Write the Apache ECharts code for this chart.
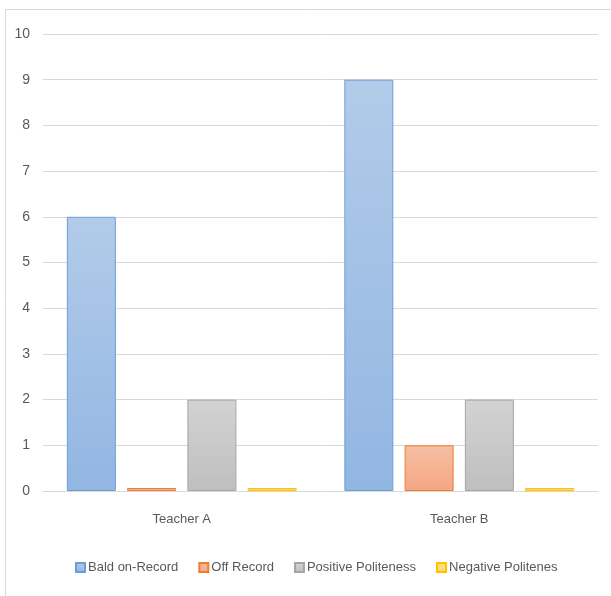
<!DOCTYPE html>
<html><head><meta charset="utf-8">
<script src="https://cdn.jsdelivr.net/npm/echarts@6/dist/echarts.min.js"></script>
<style>html,body{margin:0;padding:0;background:#fff}#c{width:611px;height:596px}</style>
</head><body><div id="c"></div>
<script>
var categories = ['Teacher A', 'Teacher B'];
var seriesNames = ['Bald on-Record', 'Off Record', 'Positive Politeness', 'Negative Politenes'];
var baldOnRecord = [6, 9];
var offRecord = [0, 1];
var positivePoliteness = [2, 2];
var negativePoliteness = [0, 0];
var yTicks = [0, 1, 2, 3, 4, 5, 6, 7, 8, 9, 10];

var values = [baldOnRecord, offRecord, positivePoliteness, negativePoliteness];
var fills = [['#b2cbe9', '#92b6e2'], ['#f6bea4', '#f4a783'], ['#d3d3d3', '#bfbfbf'], ['#ffe494', '#ffd66a']];
var borders = ['#6a9fd8', '#ed7d31', '#a5a5a5', '#ffc000'];
var font = 'Liberation Sans';

var chart = echarts.init(document.getElementById('c'));
chart.setOption({
  animation: false,
  graphic: [{type: 'rect', shape: {x: 5.5, y: 9.5, width: 700, height: 700}, style: {fill: 'none', stroke: '#d9d9d9', lineWidth: 1}, z: -1}],
  grid: {left: 43, right: 13, top: 34, bottom: 105},
  legend: {
    left: 70, top: 556, itemWidth: 9, itemHeight: 9, itemGap: 20,
    icon: 'rect',
    textStyle: {color: '#595959', fontFamily: font, fontSize: 13, padding: [0, 0, 0, -2]},
    data: seriesNames
  },
  xAxis: {
    type: 'category', data: categories,
    axisLine: {lineStyle: {color: '#d9d9d9', width: 1}},
    axisTick: {show: false},
    axisLabel: {color: '#595959', fontFamily: font, fontSize: 13, margin: 22}
  },
  yAxis: {
    type: 'value', min: yTicks[0], max: yTicks[yTicks.length - 1], interval: 1,
    axisLine: {show: false}, axisTick: {show: false},
    axisLabel: {color: '#595959', fontFamily: font, fontSize: 14, margin: 13},
    splitLine: {lineStyle: {color: '#d9d9d9', width: 1}}
  },
  series: seriesNames.map(function (n, i) {
    return {
      name: n, type: 'bar', data: values[i], barWidth: 49, barGap: '23%', barMinHeight: 3,
      itemStyle: {
        color: new echarts.graphic.LinearGradient(0, 0, 0, 1, [{offset: 0, color: fills[i][0]}, {offset: 1, color: fills[i][1]}]),
        borderColor: borders[i], borderWidth: 1
      }
    };
  })
});
</script></body></html>
